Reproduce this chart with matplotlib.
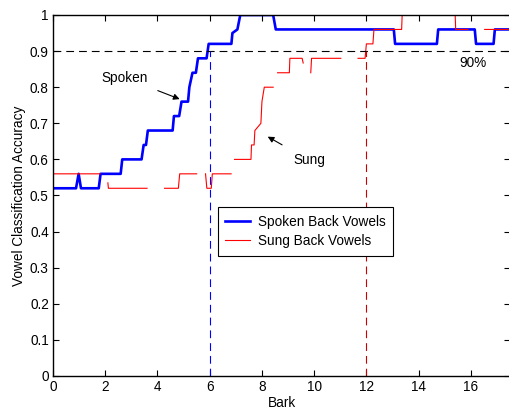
import numpy as np
import matplotlib
matplotlib.use('Agg')
import matplotlib.pyplot as plt

plt.rcParams['font.family'] = ['Liberation Sans', 'DejaVu Sans']
plt.rcParams['font.size'] = 9.8

nan = np.nan

# spoken back vowels (blue, thick)
spoken_bark = [0, 0.88, 0.98, 1.07, 1.75, 1.82, 2.59, 2.65, 3.39, 3.47, 3.56, 3.63,
               4.58, 4.63, 4.83, 4.92, 5.17, 5.22, 5.34, 5.47, 5.55, 5.88, 5.96,
               6.83, 6.87, 7.06, 7.17, 8.43, 8.53, 13.05, 13.1, 14.7, 14.75,
               16.15, 16.2, 16.87, 16.92, 17.5]
spoken_acc = [0.52, 0.52, 0.56, 0.52, 0.52, 0.56, 0.56, 0.60, 0.60, 0.64, 0.64, 0.68,
              0.68, 0.72, 0.72, 0.76, 0.76, 0.80, 0.84, 0.84, 0.88, 0.88, 0.92,
              0.92, 0.95, 0.96, 1.0, 1.0, 0.96, 0.96, 0.92, 0.92, 0.96,
              0.96, 0.92, 0.92, 0.96, 0.96]

# sung back vowels (red, thin, with gaps)
sung_bark = [0, 1.8, nan, 2.1, 2.12, 3.6, nan, 4.27, 4.8, 4.85, 5.5, nan,
             5.84, 5.89, 6.06, 6.1, 6.82, nan, 6.95, 7.58, 7.6, 7.7, 7.73, 7.96,
             8.0, 8.09, 8.43, nan, 8.6, 9.05, 9.07, 9.54, 9.58, nan, 9.87, 9.9,
             11.02, nan, 11.68, 11.95, 12.0, 12.25, 12.29, 13.35, 13.37, 14.11,
             nan, 14.74, 15.4, 15.42, 15.89, nan, 16.53, 17.5]
sung_acc = [0.56, 0.56, nan, 0.535, 0.52, 0.52, nan, 0.52, 0.52, 0.56, 0.56, nan,
            0.56, 0.52, 0.52, 0.56, 0.56, nan, 0.60, 0.60, 0.64, 0.64, 0.68, 0.70,
            0.76, 0.80, 0.80, nan, 0.84, 0.84, 0.88, 0.88, 0.867, nan, 0.84, 0.88,
            0.88, nan, 0.88, 0.88, 0.92, 0.92, 0.96, 0.96, 1.0, 1.0,
            nan, 1.0, 1.0, 0.96, 0.96, nan, 0.96, 0.96]

threshold = 0.9
spoken_cross = 6
sung_cross = 12

fig = plt.figure(figsize=(5.1, 4.12), dpi=100)
ax = fig.add_axes([0.104, 0.0874, 0.896, 0.8762])

ax.plot(spoken_bark, spoken_acc, color='#0000ff', lw=1.9, label='Spoken Back Vowels')
ax.plot(sung_bark, sung_acc, color='#ff0000', lw=0.8, label='Sung Back Vowels')

dash = (0, (7, 4.5))
ax.axhline(threshold, color='black', lw=0.8, linestyle=dash)
ax.plot([spoken_cross, spoken_cross], [0, threshold], color='#0000ff', lw=0.8, linestyle=dash)
ax.plot([sung_cross, sung_cross], [0, threshold], color='#cc0000', lw=0.8, linestyle=dash)

ax.annotate('Spoken', xy=(4.85, 0.767), xytext=(2.75, 0.826),
            ha='center', va='center',
            arrowprops=dict(arrowstyle='-|>', color='black', lw=0.8, shrinkA=6, shrinkB=0,
                            mutation_scale=9))
ax.annotate('Sung', xy=(8.22, 0.663), xytext=(9.8, 0.598),
            ha='center', va='center',
            arrowprops=dict(arrowstyle='-|>', color='black', lw=0.8, shrinkA=8, shrinkB=0,
                            mutation_scale=9))
ax.text(16.1, 0.866, '90%', ha='center', va='center')

ax.set_xlim(0, 17.5)
ax.set_ylim(0, 1)
ax.set_xticks(np.arange(0, 17, 2))
ax.set_yticks(np.arange(0, 1.01, 0.1))
ax.set_yticklabels(['0', '0.1', '0.2', '0.3', '0.4', '0.5', '0.6', '0.7', '0.8', '0.9', '1'])
ax.tick_params(direction='in', length=4, width=0.8, top=True, right=True, pad=3)
for s in ax.spines.values():
    s.set_linewidth(1.0)
ax.set_xlabel('Bark', labelpad=1)
ax.set_ylabel('Vowel Classification Accuracy', labelpad=3)

leg = ax.legend(loc='upper left', bbox_to_anchor=(0.361, 0.468), borderaxespad=0,
                fancybox=False, edgecolor='black', framealpha=1, handlelength=1.8,
                handletextpad=0.6, borderpad=0.55, labelspacing=0.42)
leg.get_frame().set_linewidth(0.8)

fig.savefig('out.png', dpi=100)
